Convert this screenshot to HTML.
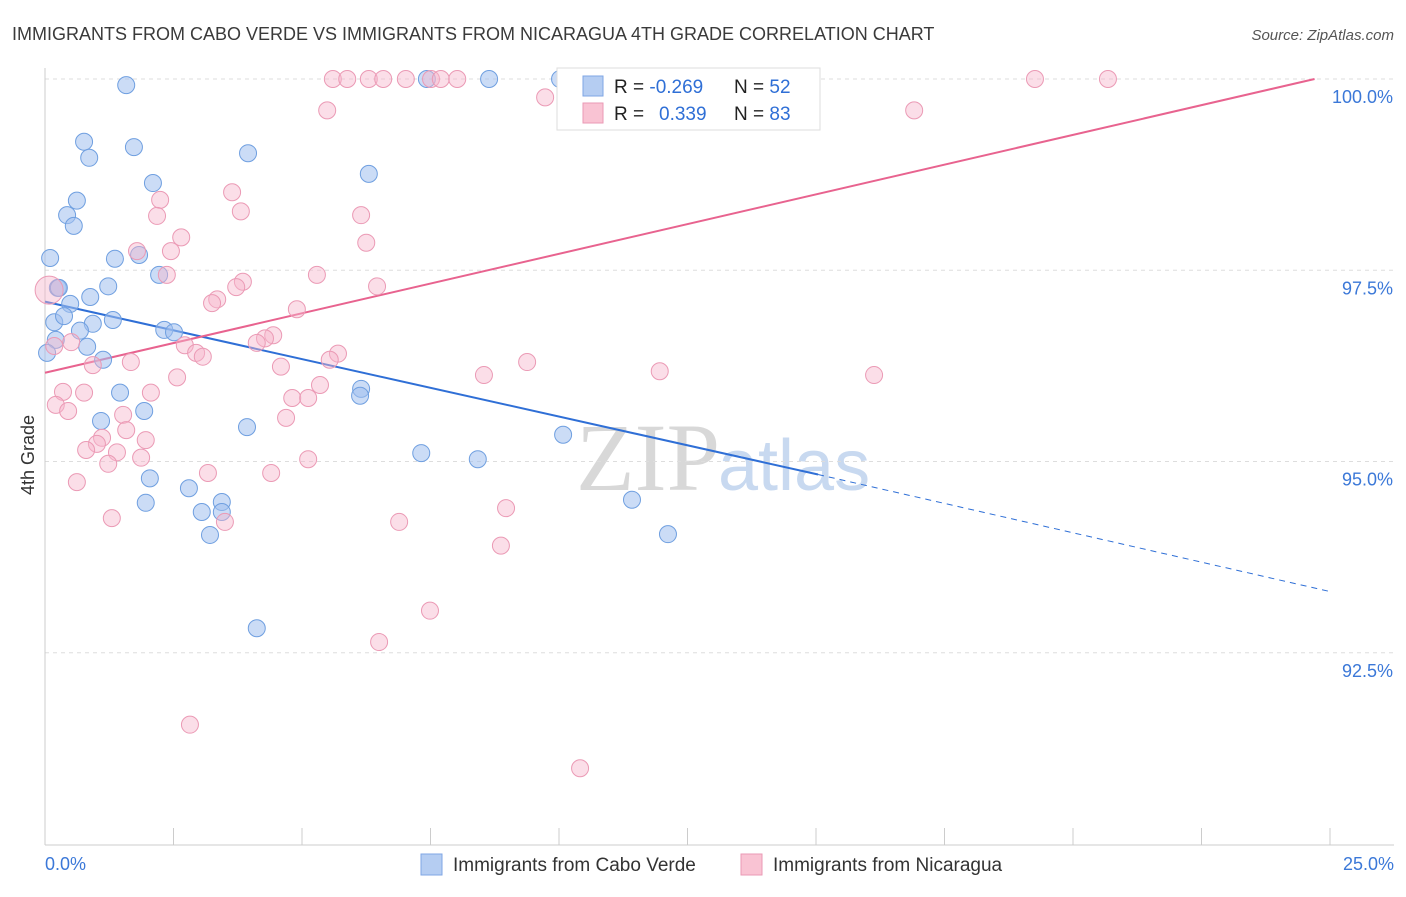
<!DOCTYPE html>
<html><head><meta charset="utf-8"><style>
body{margin:0;background:#fff;font-family:"Liberation Sans",sans-serif;}
</style></head><body>
<svg id="chart" width="1406" height="892" xmlns="http://www.w3.org/2000/svg" style="font-family:'Liberation Sans',sans-serif">
<text x="12" y="40" font-size="18" fill="#3a3a3a">IMMIGRANTS FROM CABO VERDE VS IMMIGRANTS FROM NICARAGUA 4TH GRADE CORRELATION CHART</text>
<text x="1394" y="40" font-size="15" fill="#555" font-style="italic" text-anchor="end">Source: ZipAtlas.com</text>
<text x="720" y="490" font-size="96" fill="#d8d8d8" text-anchor="end" font-family="Liberation Serif">ZIP</text>
<text x="718" y="490" font-size="72" fill="#c8d9f0">atlas</text>
<text x="34" y="455" font-size="18" fill="#333" transform="rotate(-90 34 455)" text-anchor="middle">4th Grade</text>
<g id="grid"></g><g id="axes"></g><g id="trends"></g><g id="pts"></g>
<g>
<rect x="557" y="68" width="263" height="62" fill="#fff" stroke="#ddd"/>
<rect x="583" y="76" width="20" height="20" fill="#b5cdf2" stroke="#7fa6e4"/>
<rect x="583" y="103" width="20" height="20" fill="#f9c3d3" stroke="#ea9ab4"/>
<text x="614" y="93" font-size="19" fill="#222">R = <tspan fill="#2f6fd6">-0.269</tspan></text>
<text x="734" y="93" font-size="19" fill="#222">N = <tspan fill="#2f6fd6">52</tspan></text>
<text x="614" y="120" font-size="19" fill="#222">R = <tspan fill="#2f6fd6" x="659">0.339</tspan></text>
<text x="734" y="120" font-size="19" fill="#222">N = <tspan fill="#2f6fd6">83</tspan></text>
</g>
<g>
<rect x="421" y="854" width="21" height="21" fill="#b5cdf2" stroke="#7fa6e4"/>
<text x="453" y="871" font-size="19" fill="#333">Immigrants from Cabo Verde</text>
<rect x="741" y="854" width="21" height="21" fill="#f9c3d3" stroke="#ea9ab4"/>
<text x="773" y="871" font-size="19" fill="#333">Immigrants from Nicaragua</text>
</g>
</svg>
<script>
const blueX=[1.58,0.76,0.86,1.73,3.95,2.10,6.30,0.62,0.43,0.56,0.10,1.36,1.83,2.22,1.23,0.25,0.88,0.49,0.18,0.37,0.93,1.32,0.68,2.32,2.51,0.21,0.04,0.82,1.13,1.46,1.93,1.09,3.93,6.15,6.13,2.04,1.96,2.80,3.05,3.44,3.44,3.21,4.12,7.32,8.42,10.08,11.42,12.12,7.43,8.64,10.02,0.27];
const blueY=[99.92,99.18,98.97,99.11,99.03,98.64,98.76,98.41,98.22,98.08,97.66,97.65,97.70,97.44,97.29,97.27,97.15,97.06,96.82,96.90,96.80,96.85,96.71,96.72,96.69,96.59,96.42,96.50,96.33,95.90,95.66,95.53,95.45,95.95,95.86,94.78,94.46,94.65,94.34,94.47,94.34,94.04,92.82,95.11,95.03,95.35,94.50,94.05,100,100,100,97.27];
const pinkX=[5.60,5.88,6.30,6.58,7.02,7.51,7.70,8.02,19.26,20.68,5.49,9.73,16.91,3.64,2.24,3.81,2.18,6.15,2.65,6.25,1.79,2.45,2.37,5.29,3.85,3.72,6.46,3.35,3.25,4.90,0.08,4.44,4.28,4.12,2.72,0.51,0.18,2.94,3.07,5.70,5.54,1.67,4.59,0.93,9.38,8.54,11.96,16.13,2.57,5.35,0.35,0.76,2.06,4.81,5.12,0.21,0.45,1.52,4.69,1.58,1.96,1.11,1.01,0.80,1.40,1.87,1.23,5.12,3.17,4.40,0.62,8.97,1.30,3.50,6.89,8.87,7.49,6.50,2.82,10.41];
const pinkY=[100,100,100,100,100,100,100,100,100,100,99.59,99.76,99.59,98.52,98.42,98.27,98.21,98.22,97.93,97.86,97.75,97.75,97.44,97.44,97.35,97.28,97.29,97.12,97.07,96.99,97.24,96.65,96.61,96.55,96.52,96.56,96.51,96.42,96.37,96.41,96.33,96.30,96.24,96.26,96.30,96.13,96.18,96.13,96.10,96.00,95.91,95.90,95.90,95.83,95.83,95.74,95.66,95.61,95.57,95.41,95.28,95.31,95.23,95.15,95.12,95.05,94.97,95.03,94.85,94.85,94.73,94.39,94.26,94.21,94.21,93.90,93.05,92.64,91.56,90.99];
const yTicks=[100,97.5,95,92.5];
const yTickLabels=["100.0%","97.5%","95.0%","92.5%"];
const blueTrend=[[0,97.09],[15.04,94.83],[25,93.30]];
const pinkTrend=[[0,96.16],[24.7,100]];
const NS="http://www.w3.org/2000/svg";
const X=v=>45+v/25*1285, Y=v=>79+(100-v)*76.5;
function mk(t,a,p){const e=document.createElementNS(NS,t);for(const k in a)e.setAttribute(k,a[k]);document.getElementById(p).appendChild(e);return e;}
yTicks.forEach((t,i)=>{
 const l=mk('line',{x1:45,x2:1394,y1:Y(t),y2:Y(t),stroke:'#ddd','stroke-dasharray':'4,4'},'grid');
 
 
 const tx=mk('text',{x:1393,y:Y(t)+24,'font-size':18,fill:'#3b78d8','text-anchor':'end'},'grid');
 tx.textContent=yTickLabels[i];
 
 
});
const ax=mk('line',{x1:45,x2:1394,y1:845,y2:845,stroke:'#ccc'},'axes');


const ay=mk('line',{x1:45,x2:45,y1:68,y2:845,stroke:'#ccc'},'axes');


for(let i=0;i<=10;i++){const t=mk('line',{x1:X(i*2.5),x2:X(i*2.5),y1:828,y2:845,stroke:'#ccc'},'axes');
 
 }
const x0=mk('text',{x:45,y:870,'font-size':18,fill:'#3b78d8'},'axes');x0.textContent='0.0%';


const x1=mk('text',{x:1394,y:870,'font-size':18,fill:'#3b78d8','text-anchor':'end'},'axes');x1.textContent='25.0%';


for(let i=0;i<blueX.length;i++){const c=mk('circle',{cx:X(blueX[i]),cy:Y(blueY[i]),r:8.5,fill:'rgba(160,192,238,0.55)',stroke:'#6f9fe0','stroke-width':1},'pts');
 
 }
for(let i=0;i<pinkX.length;i++){const c=mk('circle',{cx:X(pinkX[i]),cy:Y(pinkY[i]),r:i==30?14:8.5,fill:'rgba(246,182,203,0.45)',stroke:'#eb9ab5','stroke-width':1},'pts');
 
 }
const b1=mk('line',{x1:X(blueTrend[0][0]),y1:Y(blueTrend[0][1]),x2:X(blueTrend[1][0]),y2:Y(blueTrend[1][1]),stroke:'#2f6fd6','stroke-width':2},'trends');


const b2=mk('line',{x1:X(blueTrend[1][0]),y1:Y(blueTrend[1][1]),x2:X(blueTrend[2][0]),y2:Y(blueTrend[2][1]),stroke:'#2f6fd6','stroke-width':1,'stroke-dasharray':'6,5'},'trends');


const p1=mk('line',{x1:X(pinkTrend[0][0]),y1:Y(pinkTrend[0][1]),x2:X(pinkTrend[1][0]),y2:Y(pinkTrend[1][1]),stroke:'#e8638f','stroke-width':2},'trends');


</script>
</body></html>
